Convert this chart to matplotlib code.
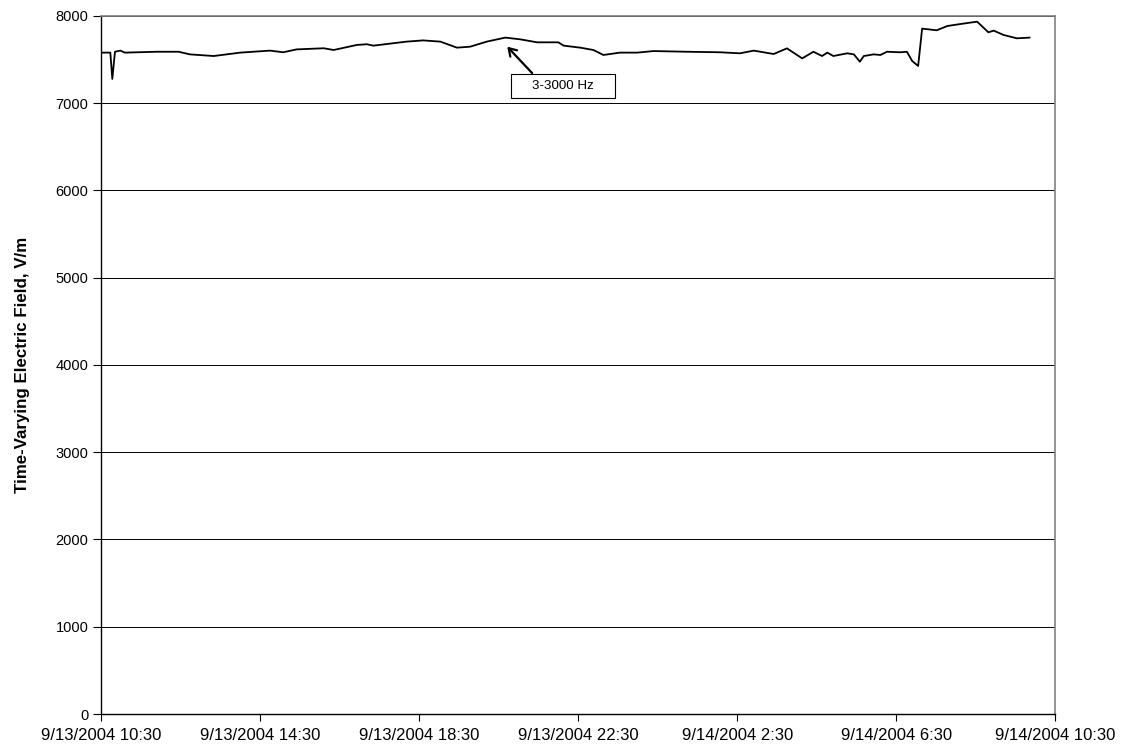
import pandas as pd
import matplotlib
matplotlib.use("Agg")
import matplotlib.pyplot as plt

plt.rcParams["font.family"] = ["Liberation Sans", "DejaVu Sans"]

# readings (time stamp, field in V/m)
times = [
    "2004-09-13 10:30", "2004-09-13 10:44", "2004-09-13 10:47", "2004-09-13 10:51",
    "2004-09-13 10:59", "2004-09-13 11:06", "2004-09-13 11:54", "2004-09-13 12:27",
    "2004-09-13 12:44", "2004-09-13 13:20", "2004-09-13 14:00", "2004-09-13 14:45",
    "2004-09-13 15:05", "2004-09-13 15:25", "2004-09-13 16:06", "2004-09-13 16:21",
    "2004-09-13 16:56", "2004-09-13 17:11", "2004-09-13 17:21", "2004-09-13 18:11",
    "2004-09-13 18:36", "2004-09-13 19:02", "2004-09-13 19:27", "2004-09-13 19:47",
    "2004-09-13 20:12", "2004-09-13 20:40", "2004-09-13 21:02", "2004-09-13 21:28",
    "2004-09-13 22:00", "2004-09-13 22:08", "2004-09-13 22:33", "2004-09-13 22:53",
    "2004-09-13 23:08", "2004-09-13 23:33", "2004-09-13 23:59", "2004-09-14 00:24",
    "2004-09-14 01:14", "2004-09-14 02:04", "2004-09-14 02:34", "2004-09-14 02:55",
    "2004-09-14 03:25", "2004-09-14 03:45", "2004-09-14 04:08", "2004-09-14 04:25",
    "2004-09-14 04:38", "2004-09-14 04:46", "2004-09-14 04:55", "2004-09-14 05:16",
    "2004-09-14 05:26", "2004-09-14 05:35", "2004-09-14 05:41", "2004-09-14 05:56",
    "2004-09-14 06:06", "2004-09-14 06:16", "2004-09-14 06:36", "2004-09-14 06:46",
    "2004-09-14 06:54", "2004-09-14 07:03", "2004-09-14 07:09", "2004-09-14 07:31",
    "2004-09-14 07:47", "2004-09-14 08:07", "2004-09-14 08:32", "2004-09-14 08:49",
    "2004-09-14 08:57", "2004-09-14 09:12", "2004-09-14 09:32", "2004-09-14 09:51",
]
field = [
    7580, 7580, 7278, 7590, 7603, 7580, 7590, 7590,
    7560, 7541, 7580, 7603, 7584, 7617, 7630, 7610,
    7668, 7676, 7660, 7706, 7720, 7706, 7637, 7648,
    7706, 7752, 7733, 7698, 7698, 7660, 7637, 7610,
    7553, 7580, 7580, 7598, 7590, 7584, 7572, 7603,
    7564, 7629, 7514, 7590, 7541, 7580, 7541, 7572,
    7560, 7476, 7541, 7560, 7553, 7590, 7584, 7590,
    7484, 7427, 7855, 7836, 7885, 7908, 7935, 7813,
    7832, 7782, 7744, 7752,
]
label_text = "3-3000 Hz"
x_ticks = pd.date_range("2004-09-13 10:30", "2004-09-14 10:30", freq="4h")
y_ticks = list(range(0, 8001, 1000))

t = pd.to_datetime(times)

fig = plt.figure(figsize=(11.24, 7.5), dpi=100)
ax = fig.add_axes([0.0899, 0.048, 0.849, 0.9307])

ax.plot(t, field, color="black", lw=1.3)

ax.set_xlim(x_ticks[0], x_ticks[-1])
ax.set_ylim(0, 8000)
ax.set_xticks(x_ticks)
ax.set_xticklabels([f"{d.month}/{d.day}/{d.year} {d.hour}:{d.minute:02d}" for d in x_ticks],
                   fontsize=12)
ax.set_yticks(y_ticks)
ax.set_yticklabels([str(v) for v in y_ticks], fontsize=10.5)
ax.tick_params(axis="both", direction="out", width=0.8, color="black")
ax.tick_params(axis="x", length=5, pad=5)
ax.tick_params(axis="y", length=6, pad=3)

ax.grid(axis="y", color="black", lw=0.7)
ax.set_axisbelow(True)
for side in ["top", "right"]:
    ax.spines[side].set_color("#808080")
    ax.spines[side].set_linewidth(1.2)
for side in ["left", "bottom"]:
    ax.spines[side].set_color("black")
    ax.spines[side].set_linewidth(1.0)

ax.set_ylabel("Time-Varying Electric Field, V/m", fontsize=12.2, fontweight="bold")
ax.yaxis.set_label_coords(-0.0744, 0.5)

ax.annotate("    " + label_text + "    ",
            xy=(pd.Timestamp("2004-09-13 20:43"), 7648),
            xytext=(pd.Timestamp("2004-09-13 22:07"), 7203),
            ha="center", va="center", fontsize=9.6,
            bbox=dict(boxstyle="square,pad=0.45", fc="white", ec="black", lw=0.8),
            arrowprops=dict(arrowstyle="->,head_length=0.55,head_width=0.35", color="black",
                            lw=1.6, relpos=(0.23, 1.0), shrinkA=0, shrinkB=0))

fig.savefig("out.png", dpi=100, facecolor="white")
